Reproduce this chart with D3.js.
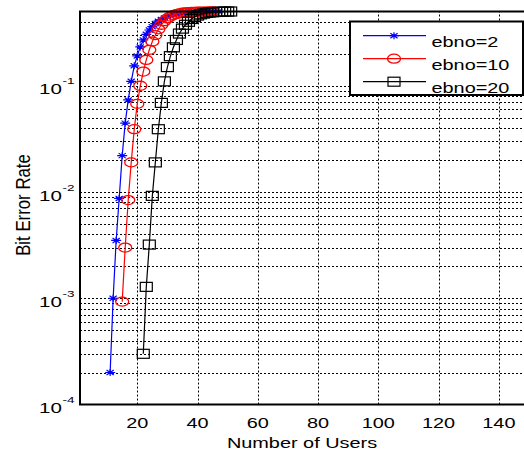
<!DOCTYPE html>
<html>
<head>
<meta charset="utf-8">
<script src="https://cdn.jsdelivr.net/npm/d3@7"></script>
<style>
  html, body { margin: 0; padding: 0; background: #fff; }
  text { font-family: "Liberation Sans", Arial, sans-serif; fill: #000; }
</style>
</head>
<body>
<div id="chart"></div>
<script>
// Data
var usersEbno2 = [11,12,13,14,15,16,17,18,19,20,21,22,23,24,25,26,27,28,29,30,31,32,33,34,35,36,37,38,39,40,41,42,43,44,45,46,47];
var berEbno2 = [2e-4,1e-3,3.5e-3,8.7e-3,0.022,0.0445,0.0736,0.11,0.154,0.191,0.232,0.27,0.305,0.335,0.36,0.385,0.405,0.42,0.435,0.447,0.457,0.465,0.472,0.478,0.482,0.486,0.489,0.491,0.493,0.495,0.496,0.497,0.498,0.498,0.499,0.499,0.499];

var usersEbno10 = [15,16,17,18,19,20,21,22,23,24,25,26,27,28,29,30,31,32,33,34,35,36,37,38,39,40,41,42,43,44,45];
var berEbno10 = [9.3e-4,3e-3,8.4e-3,0.019,0.039,0.0675,0.1,0.136,0.175,0.218,0.261,0.3,0.34,0.375,0.405,0.43,0.448,0.462,0.473,0.481,0.487,0.491,0.494,0.496,0.497,0.498,0.499,0.499,0.499,0.5,0.5];

var usersEbno20 = [22,23,24,25,26,27,28,29,30,31,32,33,34,35,36,37,38,39,40,41,42,43,44,45,46,47,48,49,50,51];
var berEbno20 = [3e-4,1.28e-3,3.2e-3,9.2e-3,0.019,0.039,0.069,0.11,0.15,0.19,0.23,0.27,0.31,0.345,0.375,0.4,0.425,0.443,0.458,0.47,0.478,0.485,0.489,0.492,0.495,0.497,0.498,0.499,0.499,0.5];

var xTicks = [20, 40, 60, 80, 100, 120, 140];
var yDecades = [-4, -3, -2, -1];
var seriesNames = ["ebno=2", "ebno=10", "ebno=20"];
var seriesColors = ["#0000ff", "#ff0000", "#000000"];
var seriesMarkers = ["star", "circle", "square"];

var w = 524, h = 451;
var margin = {top: 11.5, right: -5, bottom: 46.5, left: 80};
var sx = 1.42; // glyphs in the picture are wide

var svg = d3.select("#chart").append("svg")
    .attr("width", w)
    .attr("height", h);

var xScale = d3.scaleLinear()
    .domain([1, 150])
    .range([margin.left, w - margin.right]);

var yScale = d3.scaleLog()
    .domain([1e-4, 0.5])
    .range([h - margin.bottom, margin.top]);

var x0 = xScale.range()[0], x1 = xScale.range()[1];
var y0 = yScale.range()[0], y1 = yScale.range()[1];

// grid values: every decade and its minor steps up to 0.5
var gridVals = [];
yDecades.forEach(function(e) {
    for (var m = 1; m <= 9; m++) {
        var v = m * Math.pow(10, e);
        if (v > 1e-4 && v < 0.5) gridVals.push(v);
    }
});

var grid = svg.append("g")
    .attr("stroke", "#000")
    .attr("stroke-width", 1)
    .attr("stroke-dasharray", "2,2");

grid.selectAll("line.h")
    .data(gridVals)
    .enter()
    .append("line")
    .attr("class", "h")
    .attr("x1", x0).attr("x2", x1)
    .attr("y1", function(d) { return Math.round(yScale(d)) + 0.5; })
    .attr("y2", function(d) { return Math.round(yScale(d)) + 0.5; });

grid.selectAll("line.v")
    .data(xTicks)
    .enter()
    .append("line")
    .attr("class", "v")
    .attr("y1", y0).attr("y2", y1)
    .attr("x1", function(d) { return Math.round(xScale(d)) + 0.5; })
    .attr("x2", function(d) { return Math.round(xScale(d)) + 0.5; });

// markers
function drawMarker(g, type, color) {
    if (type === "star") {
        g.append("path")
            .attr("d", "M-5,0H5M0,-3.5V3.5M-3.6,-2.5L3.6,2.5M-3.6,2.5L3.6,-2.5")
            .attr("stroke", color).attr("stroke-width", 1.2).attr("fill", "none");
    } else if (type === "circle") {
        g.append("ellipse")
            .attr("rx", 6.5).attr("ry", 4.5)
            .attr("stroke", color).attr("stroke-width", 1.3).attr("fill", "none");
    } else {
        g.append("rect")
            .attr("x", -6).attr("y", -4.5).attr("width", 12).attr("height", 9)
            .attr("stroke", color).attr("stroke-width", 1.2).attr("fill", "none");
    }
}

var series = [
    {users: usersEbno2, ber: berEbno2},
    {users: usersEbno10, ber: berEbno10},
    {users: usersEbno20, ber: berEbno20}
];

var line = d3.line()
    .x(function(d) { return xScale(d[0]); })
    .y(function(d) { return yScale(d[1]); });

series.forEach(function(s, k) {
    var pts = s.users.map(function(u, i) { return [u, s.ber[i]]; });
    var g = svg.append("g");
    g.append("path")
        .datum(pts)
        .attr("d", line)
        .attr("fill", "none")
        .attr("stroke", seriesColors[k])
        .attr("stroke-width", 1.2);
    g.selectAll("g.m")
        .data(pts)
        .enter()
        .append("g")
        .attr("class", "m")
        .attr("transform", function(d) {
            return "translate(" + xScale(d[0]) + "," + yScale(d[1]) + ")";
        })
        .each(function() { drawMarker(d3.select(this), seriesMarkers[k], seriesColors[k]); });
});

// axes box
svg.append("path")
    .attr("d", "M" + x1 + "," + y1 + "H" + x0 + "V" + y0 + "H" + x1)
    .attr("fill", "none")
    .attr("stroke", "#000")
    .attr("stroke-width", 2);

// x tick labels
svg.selectAll("text.xt")
    .data(xTicks)
    .enter()
    .append("text")
    .attr("class", "xt")
    .attr("transform", function(d) { return "translate(" + xScale(d) + ",428) scale(" + sx + ",1)"; })
    .attr("text-anchor", "middle")
    .style("font-size", "14px")
    .text(function(d) { return d; });

// y tick labels 10^n
var yt = svg.selectAll("g.yt")
    .data(yDecades)
    .enter()
    .append("g")
    .attr("class", "yt")
    .attr("transform", function(d) { return "translate(62," + yScale(Math.pow(10, d)) + ")"; });

yt.append("text")
    .attr("transform", "translate(0,8.5) scale(" + sx + ",1)")
    .attr("text-anchor", "end")
    .style("font-size", "14.5px")
    .text("10");

yt.append("text")
    .attr("transform", "translate(0.5,-1.5) scale(" + sx + ",1)")
    .style("font-size", "9.5px")
    .text(function(d) { return d; });

// axis titles
svg.append("text")
    .attr("transform", "translate(" + 302 + ",448) scale(" + sx + ",1)")
    .attr("text-anchor", "middle")
    .style("font-size", "14px")
    .text("Number of Users");

svg.append("text")
    .attr("transform", "translate(30,205) rotate(-90) scale(1.2," + sx + ")")
    .attr("text-anchor", "middle")
    .style("font-size", "14px")
    .text("Bit Error Rate");

// legend
var legend = svg.append("g");
legend.append("rect")
    .attr("x", 350).attr("y", 21.5)
    .attr("width", 173).attr("height", 73.5)
    .attr("fill", "#fff")
    .attr("stroke", "#000")
    .attr("stroke-width", 2);

var items = legend.selectAll("g.item")
    .data(seriesNames)
    .enter()
    .append("g")
    .attr("class", "item")
    .attr("transform", function(d, i) { return "translate(0," + (35.7 + i * 23) + ")"; });

items.append("line")
    .attr("x1", 363).attr("x2", 426)
    .attr("stroke", function(d, i) { return seriesColors[i]; })
    .attr("stroke-width", 1.2);

items.append("g")
    .attr("transform", "translate(394,0)")
    .each(function(d, i) { drawMarker(d3.select(this), seriesMarkers[i], seriesColors[i]); });

items.append("text")
    .attr("transform", "translate(431.5,11) scale(" + sx + ",1)")
    .style("font-size", "14px")
    .text(function(d) { return d; });
</script>
</body>
</html>
